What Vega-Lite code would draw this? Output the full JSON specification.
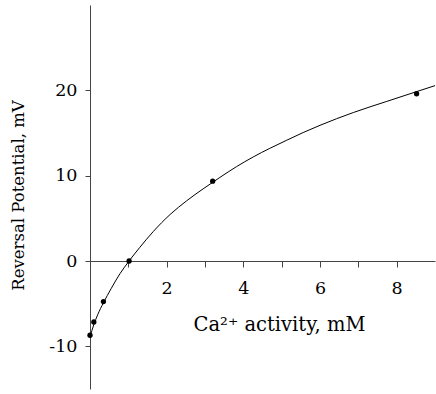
{
  "$schema": "https://vega.github.io/schema/vega-lite/v6.json",
  "autosize": "none",
  "padding": {"left": 90, "top": 5, "right": 1, "bottom": 5},
  "width": 345,
  "height": 384,
  "background": "white",
  "config": {
    "view": {"stroke": null},
    "font": "DejaVu Serif",
    "axis": {
      "grid": false,
      "domainColor": "#444444",
      "tickColor": "#444444",
      "labelColor": "black",
      "titleColor": "black",
      "labelFont": "DejaVu Serif",
      "titleFont": "DejaVu Serif",
      "titleFontWeight": "normal",
      "labelFontSize": 17.5
    }
  },
  "datasets": {
    "fit": [
      {"activity": 0.0, "potential": -8.9},
      {"activity": 0.1, "potential": -7.45},
      {"activity": 0.2, "potential": -6.3},
      {"activity": 0.35, "potential": -4.9},
      {"activity": 0.55, "potential": -3.25},
      {"activity": 0.78, "potential": -1.5},
      {"activity": 1.02, "potential": 0.0},
      {"activity": 1.3, "potential": 1.6},
      {"activity": 1.65, "potential": 3.45},
      {"activity": 2.09, "potential": 5.45},
      {"activity": 2.52, "potential": 7.05},
      {"activity": 2.95, "potential": 8.45},
      {"activity": 3.39, "potential": 9.8},
      {"activity": 3.82, "potential": 11.05},
      {"activity": 4.26, "potential": 12.2},
      {"activity": 4.69, "potential": 13.2},
      {"activity": 5.13, "potential": 14.15},
      {"activity": 5.56, "potential": 15.05},
      {"activity": 6.0, "potential": 15.9},
      {"activity": 6.87, "potential": 17.4},
      {"activity": 7.74, "potential": 18.7},
      {"activity": 8.52, "potential": 19.85},
      {"activity": 9.0, "potential": 20.55}
    ],
    "measured": [
      {"activity": 0.0, "potential": -8.7},
      {"activity": 0.1, "potential": -7.15},
      {"activity": 0.35, "potential": -4.75},
      {"activity": 1.02, "potential": 0.0},
      {"activity": 3.2, "potential": 9.35},
      {"activity": 8.52, "potential": 19.6}
    ]
  },
  "layer": [
    {
      "data": {"name": "fit"},
      "mark": {"type": "line", "color": "black", "strokeWidth": 1, "interpolate": "monotone"},
      "encoding": {
        "x": {
          "field": "activity",
          "type": "quantitative",
          "scale": {"domain": [0, 9], "nice": false, "zero": false},
          "axis": {
            "orient": "bottom",
            "offset": {"expr": "scale('y', 0) - height"},
            "values": [1, 2, 3, 4, 5, 6, 7, 8],
            "labelExpr": "datum.value % 2 === 0 ? datum.label : ''",
            "tickSize": 6,
            "labelPadding": 12,
            "title": "Ca²⁺ activity, mM",
            "titleFontSize": 19.5,
            "titleX": 189,
            "titleY": 69,
            "titleAlign": "center",
            "titleBaseline": "alphabetic"
          }
        },
        "y": {
          "field": "potential",
          "type": "quantitative",
          "scale": {"domain": [-15, 30], "nice": false, "zero": false},
          "axis": {
            "values": [-10, 0, 10, 20],
            "labelExpr": "'' + datum.value",
            "tickSize": 5,
            "labelPadding": 8,
            "title": "Reversal Potential, mV",
            "titleFontSize": 16.5,
            "titleX": -67,
            "titleY": 190,
            "titleAngle": 270,
            "titleAlign": "center",
            "titleBaseline": "alphabetic"
          }
        }
      }
    },
    {
      "data": {"name": "measured"},
      "mark": {"type": "point", "filled": true, "color": "black", "opacity": 1, "size": 28},
      "encoding": {
        "x": {"field": "activity", "type": "quantitative"},
        "y": {"field": "potential", "type": "quantitative"}
      }
    }
  ]
}
